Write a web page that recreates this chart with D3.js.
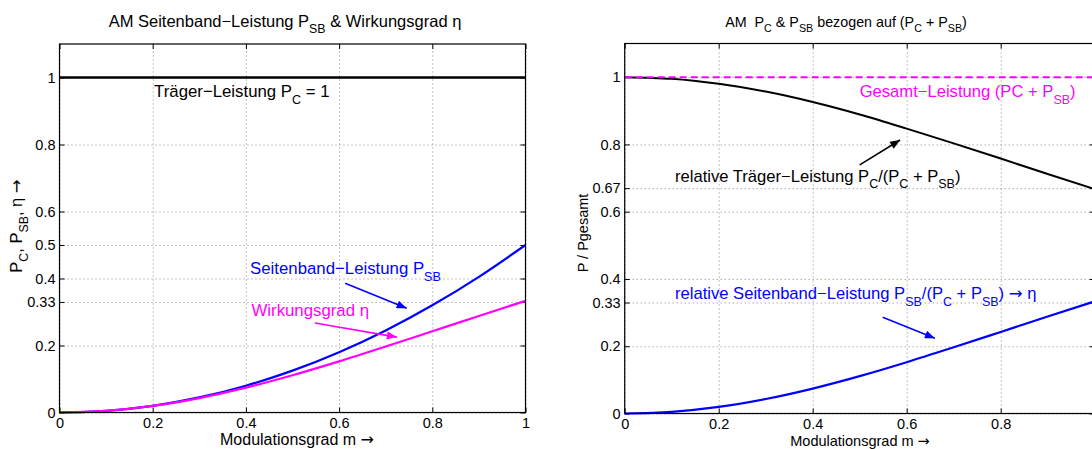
<!DOCTYPE html>
<html>
<head>
<meta charset="utf-8">
<script src="https://cdn.jsdelivr.net/npm/d3@7"></script>
<style>
  body { margin: 0; background: #fff; }
  svg { display: block; font-family: "Liberation Sans", Arial, Helvetica, sans-serif; }
  text { white-space: pre; }
</style>
</head>
<body>
<svg id="chart" width="1092" height="449"></svg>
<script>
const modulation    = [0, 0.1, 0.2, 0.3, 0.4, 0.5, 0.6, 0.7, 0.8, 0.9, 1];
const carrierPower  = [1, 1, 1, 1, 1, 1, 1, 1, 1, 1, 1];
const sidebandPower = [0, 0.005, 0.02, 0.045, 0.08, 0.125, 0.18, 0.245, 0.32, 0.405, 0.5];
const efficiency    = [0, 0.005, 0.0196, 0.0431, 0.0741, 0.1111, 0.1525, 0.1968, 0.2424, 0.2883, 0.3333];
const relCarrier    = [1, 0.995, 0.98, 0.957, 0.926, 0.889, 0.847, 0.803, 0.758, 0.712, 0.667];
const relSideband   = [0, 0.005, 0.0196, 0.0431, 0.0741, 0.1111, 0.1525, 0.1968, 0.2424, 0.2883, 0.3333];
const totalPower    = [1, 1, 1, 1, 1, 1, 1, 1, 1, 1, 1];

const xTicks      = [0, 0.2, 0.4, 0.6, 0.8, 1];
const leftYTicks  = [0, 0.2, 0.33, 0.4, 0.5, 0.6, 0.8, 1];
const rightYTicks = [0, 0.2, 0.33, 0.4, 0.6, 0.67, 0.8, 1];

const BLUE = "#0000ff", MAGENTA = "#ff00ff", BLACK = "#000";

const svg = d3.select("#chart");

// arrow heads
const defs = svg.append("defs");
[["black", BLACK], ["blue", BLUE], ["magenta", MAGENTA]].forEach(([id, c]) => {
    defs.append("marker")
        .attr("id", "arrow-" + id)
        .attr("viewBox", "0 0 10 8")
        .attr("refX", 10).attr("refY", 4)
        .attr("markerWidth", 11).attr("markerHeight", 8)
        .attr("markerUnits", "userSpaceOnUse")
        .attr("orient", "auto")
        .append("path")
        .attr("d", "M0,0 L10,4 L0,8 Z")
        .attr("fill", c);
});

// text with simple _{...} subscripts, arrows set in a font with a long arrow
function rich(sel, str, size) {
    const parts = str.split(/(_\{[^}]*\}|→)/);
    let shifted = false;
    parts.forEach(p => {
        if (!p) return;
        const isSub = p.startsWith("_{");
        const t = sel.append("tspan").text(isSub ? p.slice(2, -1) : p);
        if (p === "→") t.attr("font-family", "DejaVu Sans");
        if (isSub) {
            t.attr("font-size", size * 0.75).attr("dy", size * 0.38);
            shifted = true;
        } else if (shifted) {
            t.attr("dy", -size * 0.38);
            shifted = false;
        }
    });
}

function panel(cfg) {
    const x = d3.scaleLinear().domain([0, 1]).range([cfg.left, cfg.right]);
    const y = d3.scaleLinear().domain([0, 1.1]).range([cfg.bottom, cfg.top]);
    const g = svg.append("g");
    const w = cfg.right - cfg.left, h = cfg.bottom - cfg.top;

    // grid
    g.append("g")
        .attr("transform", `translate(0,${cfg.bottom})`)
        .call(d3.axisBottom(x).tickValues(xTicks).tickSize(-h).tickFormat(""))
        .call(a => a.select(".domain").remove())
        .call(a => a.selectAll("line").attr("stroke", "#888").attr("stroke-dasharray", "1,3"));
    g.append("g")
        .attr("transform", `translate(${cfg.left},0)`)
        .call(d3.axisLeft(y).tickValues(cfg.yTicks).tickSize(-w).tickFormat(""))
        .call(a => a.select(".domain").remove())
        .call(a => a.selectAll("line").attr("stroke", "#888").attr("stroke-dasharray", "1,3"));

    // axes with inward ticks
    const styleAxis = a => {
        a.select(".domain").remove();
        a.selectAll("text").attr("font-size", cfg.tickSize).attr("fill", BLACK)
            .attr("font-family", "Liberation Sans, Arial, sans-serif");
        a.selectAll("line").attr("stroke", BLACK);
    };
    g.append("g").attr("transform", `translate(0,${cfg.bottom})`)
        .call(d3.axisBottom(x).tickValues(xTicks).tickSize(-5).tickPadding(5).tickFormat(cfg.xFormat))
        .call(styleAxis);
    g.append("g").attr("transform", `translate(0,${cfg.top})`)
        .call(d3.axisTop(x).tickValues(xTicks).tickSize(-5).tickFormat(""))
        .call(styleAxis);
    g.append("g").attr("transform", `translate(${cfg.left},0)`)
        .call(d3.axisLeft(y).tickValues(cfg.yTicks).tickSize(-5).tickPadding(4).tickFormat(d => String(d)))
        .call(styleAxis);
    g.append("g").attr("transform", `translate(${cfg.right},0)`)
        .call(d3.axisRight(y).tickValues(cfg.yTicks).tickSize(-5).tickFormat(""))
        .call(styleAxis);

    // curves
    const line = d3.line().x((d, i) => x(modulation[i])).y(d => y(d)).curve(d3.curveMonotoneX);
    cfg.series.forEach(s => {
        g.append("path")
            .datum(s.values)
            .attr("d", line)
            .attr("fill", "none")
            .attr("stroke", s.color)
            .attr("stroke-width", s.width)
            .attr("stroke-dasharray", s.dash || null);
    });

    // frame
    g.append("rect")
        .attr("x", cfg.left).attr("y", cfg.top)
        .attr("width", w).attr("height", h)
        .attr("fill", "none").attr("stroke", BLACK).attr("stroke-width", 1.2);

    // annotations
    cfg.labels.forEach(l => {
        rich(g.append("text")
            .attr("x", x(l.m)).attr("y", y(l.v))
            .attr("font-size", cfg.labelSize)
            .attr("fill", l.color), l.text, cfg.labelSize);
    });
    cfg.arrows.forEach(a => {
        g.append("line")
            .attr("x1", x(a.from[0])).attr("y1", y(a.from[1]))
            .attr("x2", x(a.to[0])).attr("y2", y(a.to[1]))
            .attr("stroke", a.color).attr("stroke-width", 1.6)
            .attr("marker-end", `url(#arrow-${a.id})`);
    });

    // title and axis labels
    rich(g.append("text")
        .attr("x", cfg.titleX).attr("y", 27)
        .attr("text-anchor", "middle")
        .attr("font-size", cfg.titleSize), cfg.title, cfg.titleSize);
    rich(g.append("text")
        .attr("x", cfg.xLabelX).attr("y", cfg.xLabelY)
        .attr("text-anchor", "middle")
        .attr("font-size", cfg.axisLabelSize), "Modulationsgrad m →", cfg.axisLabelSize);
    rich(g.append("text")
        .attr("transform", `translate(${cfg.yLabelX},${cfg.yLabelY}) rotate(-90)`)
        .attr("text-anchor", "middle")
        .attr("font-size", cfg.yLabelSize), cfg.yLabel, cfg.yLabelSize);
}

panel({
    left: 59.5, right: 525.5, top: 44, bottom: 412.5,
    yTicks: leftYTicks, xFormat: d => String(d),
    tickSize: 14.5, labelSize: 16.8, titleSize: 16.5, axisLabelSize: 16, yLabelSize: 16.5,
    title: "AM Seitenband−Leistung P_{SB} & Wirkungsgrad η", titleX: 285,
    xLabelX: 297, xLabelY: 444.5,
    yLabel: "P_{C}, P_{SB}, η →", yLabelX: 22, yLabelY: 226,
    series: [
        { values: carrierPower, color: BLACK, width: 2.6 },
        { values: sidebandPower, color: BLUE, width: 2.2 },
        { values: efficiency, color: MAGENTA, width: 2.2 }
    ],
    labels: [
        { text: "Träger−Leistung P_{C} = 1", m: 0.203, v: 0.941, color: BLACK },
        { text: "Seitenband−Leistung P_{SB}", m: 0.409, v: 0.412, color: BLUE },
        { text: "Wirkungsgrad η", m: 0.412, v: 0.288, color: MAGENTA }
    ],
    arrows: [
        { from: [0.613, 0.386], to: [0.745, 0.311], color: BLUE, id: "blue" },
        { from: [0.548, 0.267], to: [0.724, 0.225], color: MAGENTA, id: "magenta" }
    ]
});

panel({
    left: 624.7, right: 1094.7, top: 43.5, bottom: 413.5,
    yTicks: rightYTicks, xFormat: d => (d === 1 ? "" : String(d)),
    tickSize: 14.5, labelSize: 16.6, titleSize: 14.3, axisLabelSize: 14.5, yLabelSize: 14.5,
    title: "AM  P_{C} & P_{SB} bezogen auf (P_{C} + P_{SB})", titleX: 846,
    xLabelX: 860, xLabelY: 445.5,
    yLabel: "P / Pgesamt", yLabelX: 588, yLabelY: 233,
    series: [
        { values: relCarrier, color: BLACK, width: 2 },
        { values: relSideband, color: BLUE, width: 2.2 },
        { values: totalPower, color: MAGENTA, width: 2, dash: "7,4" }
    ],
    labels: [
        { text: "Gesamt−Leistung (PC + P_{SB})", m: 0.5, v: 0.94, color: MAGENTA },
        { text: "relative Träger−Leistung P_{C}/(P_{C} + P_{SB})", m: 0.107, v: 0.689, color: BLACK },
        { text: "relative Seitenband−Leistung P_{SB}/(P_{C} + P_{SB}) → η", m: 0.107, v: 0.339, color: BLUE }
    ],
    arrows: [
        { from: [0.5, 0.739], to: [0.586, 0.813], color: BLACK, id: "black" },
        { from: [0.549, 0.286], to: [0.66, 0.2235], color: BLUE, id: "blue" }
    ]
});
</script>
</body>
</html>
